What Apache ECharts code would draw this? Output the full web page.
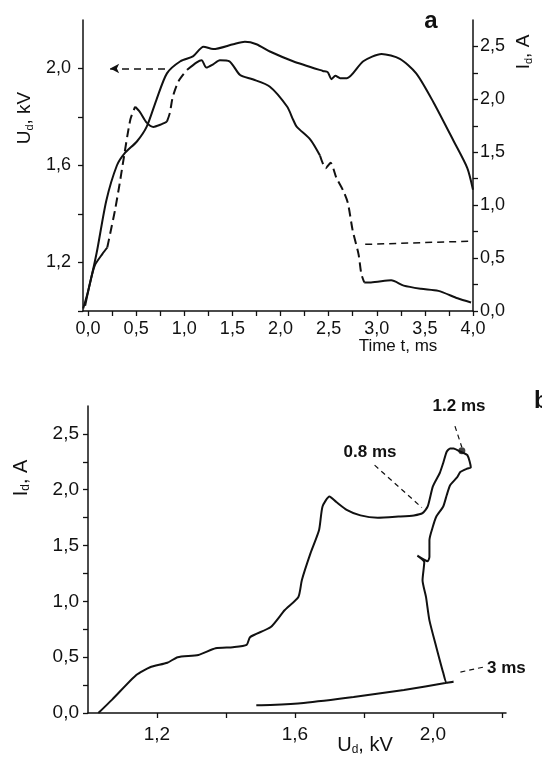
<!DOCTYPE html>
<html>
<head>
<meta charset="utf-8">
<script src="https://cdn.jsdelivr.net/npm/echarts@6/dist/echarts.min.js"></script>
<style>html,body{margin:0;padding:0;background:#fff}#c{width:542px;height:760px}</style>
</head>
<body>
<div id="c"></div>
<script>
// ---------- DATA ----------
// Panel a: discharge voltage U_d (kV) vs time (ms)
const timeU = [-0.05, 0.0, 0.09, 0.19, 0.30, 0.38, 0.51, 0.61, 0.71, 0.82, 0.96, 1.09, 1.20, 1.30, 1.51, 1.63, 1.75, 1.89, 2.13, 2.44, 2.49, 2.53, 2.57, 2.62, 2.69, 2.86, 3.05, 3.24, 3.41, 3.59, 3.80, 3.94, 4.0];
const voltU = [1.01, 1.08, 1.24, 1.455, 1.60, 1.65, 1.70, 1.76, 1.87, 1.98, 2.03, 2.05, 2.09, 2.08, 2.10, 2.11, 2.10, 2.07, 2.03, 1.99, 1.985, 1.956, 1.97, 1.96, 1.96, 2.03, 2.06, 2.04, 1.98, 1.86, 1.70, 1.59, 1.50];
// Panel a: discharge current I_d (A) vs time (ms)
const timeI = [-0.03, 0.02, 0.07, 0.15, 0.20, 0.23, 0.28, 0.33, 0.36, 0.44, 0.49, 0.54, 0.61, 0.68, 0.75, 0.82, 0.85, 0.88, 0.94, 1.03, 1.13, 1.18, 1.23, 1.30, 1.37, 1.47, 1.58, 1.71, 1.89, 2.07, 2.13, 2.17, 2.31, 2.41, 2.47, 2.52, 2.58, 2.65, 2.70, 2.75, 2.81, 2.84, 2.87, 2.94, 3.15, 3.28, 3.46, 3.64, 3.84, 3.98];
const currI = [0.05, 0.26, 0.43, 0.54, 0.60, 0.73, 0.95, 1.21, 1.38, 1.81, 1.93, 1.88, 1.78, 1.74, 1.76, 1.79, 1.87, 2.02, 2.17, 2.28, 2.35, 2.37, 2.30, 2.33, 2.37, 2.36, 2.23, 2.19, 2.12, 1.93, 1.81, 1.74, 1.62, 1.47, 1.35, 1.40, 1.26, 1.14, 1.02, 0.76, 0.54, 0.35, 0.27, 0.27, 0.29, 0.24, 0.21, 0.19, 0.12, 0.08];
// Panel b: I_d (A) vs U_d (kV), in time order
const loopU = [1.03, 1.07, 1.14, 1.18, 1.23, 1.26, 1.32, 1.37, 1.42, 1.46, 1.47, 1.53, 1.57, 1.61, 1.62, 1.645, 1.67, 1.68, 1.70, 1.72, 1.75, 1.79, 1.84, 1.90, 1.945, 1.97, 1.985, 2.00, 2.02, 2.03, 2.04, 2.05, 2.06, 2.08, 2.10, 2.11, 2.10, 2.08, 2.07, 2.05, 2.04, 2.03, 2.01, 2.00, 1.99, 1.99, 1.985, 1.955, 1.975, 1.97, 1.98, 1.99, 2.01, 2.03, 2.04, 2.06, 2.04, 1.916, 1.77, 1.625, 1.529, 1.488];
const loopI = [0.00, 0.12, 0.34, 0.41, 0.45, 0.50, 0.52, 0.58, 0.59, 0.61, 0.68, 0.77, 0.92, 1.04, 1.19, 1.43, 1.64, 1.85, 1.94, 1.89, 1.82, 1.77, 1.75, 1.76, 1.77, 1.79, 1.85, 2.03, 2.15, 2.24, 2.34, 2.37, 2.37, 2.34, 2.31, 2.20, 2.19, 2.16, 2.11, 2.04, 1.95, 1.85, 1.76, 1.67, 1.55, 1.40, 1.36, 1.41, 1.35, 1.19, 1.04, 0.83, 0.59, 0.36, 0.27, 0.28, 0.27, 0.206, 0.143, 0.09, 0.072, 0.07];
// Tick values and labels
const timeLabels = [0, 0.5, 1.0, 1.5, 2.0, 2.5, 3.0, 3.5, 4.0];
const timeTicks = [0, 0.25, 0.5, 0.75, 1.0, 1.25, 1.5, 1.75, 2.0, 2.25, 2.5, 2.75, 3.0, 3.25, 3.5, 3.75, 4.0];
const voltLabelsA = [1.2, 1.6, 2.0];
const voltTicksA = [1.0, 1.2, 1.4, 1.6, 1.8, 2.0];
const currLabels = [0, 0.5, 1.0, 1.5, 2.0, 2.5];
const currTicks = [0, 0.25, 0.5, 0.75, 1.0, 1.25, 1.5, 1.75, 2.0, 2.25, 2.5];
const voltLabelsB = [1.2, 1.6, 2.0];
const voltTicksB = [1.2, 1.4, 1.6, 1.8, 2.0, 2.2];
// Annotations (panel b): marked times on the loop
const marks = [
  {label: '1.2 ms', from: [2.064, 2.57], to: [2.084, 2.38]},
  {label: '0.8 ms', from: [1.831, 2.22], to: [1.968, 1.84]},
  {label: '3 ms',   from: [2.145, 0.41], to: [2.07, 0.36]}
];
const dot12 = [2.084, 2.35];
// Panel a arrows toward the axes
const arrowU = [[0.80, 2.0], [0.23, 2.0]];
const arrowI = [[2.88, 0.63], [4.0, 0.66]];
// Dashed portions of the I_d trace (index ranges)
const dashedRanges = [[4, 10], [15, 19], [33, 42]];

// ---------- CHART ----------
const FONT = 'Liberation Sans, Arial, sans-serif';
const INK = '#111';
const fmt = v => v.toFixed(1).replace('.', ',');
const zip = (a, b) => a.map((v, i) => [v, b[i]]);

function axisBase(ticks, labels, margin, size) {
  return {
    type: 'value',
    axisLine: {show: true, onZero: false, lineStyle: {color: INK, width: 1.5}},
    axisTick: {show: true, length: 5, customValues: ticks, lineStyle: {color: INK, width: 1.3}},
    axisLabel: {customValues: labels, formatter: fmt, fontSize: size || 18, margin: margin, color: INK, fontFamily: FONT},
    splitLine: {show: false}
  };
}

// split current trace into solid/dashed pieces
const iPts = zip(timeI, currI);
const pieces = [];
let cursor = 0;
dashedRanges.forEach(r => {
  if (r[0] > cursor) pieces.push({from: cursor, to: r[0], dashed: false});
  pieces.push({from: r[0], to: r[1], dashed: true});
  cursor = r[1];
});
if (cursor < iPts.length - 1) pieces.push({from: cursor, to: iPts.length - 1, dashed: false});

const series = [];
series.push({
  type: 'line', xAxisIndex: 0, yAxisIndex: 0, data: zip(timeU, voltU),
  showSymbol: false, smooth: 0.25, lineStyle: {color: INK, width: 2}, silent: true,
  markLine: {
    silent: true, symbol: ['none', 'arrow'], symbolSize: [7, 9], label: {show: false},
    lineStyle: {color: INK, width: 1.5, type: [7, 5]},
    data: [[{coord: arrowU[0]}, {coord: arrowU[1]}]]
  }
});
pieces.forEach((p, k) => {
  const s = {
    type: 'line', xAxisIndex: 0, yAxisIndex: 1, data: iPts.slice(p.from, p.to + 1),
    showSymbol: false, smooth: 0.25, silent: true,
    lineStyle: {color: INK, width: 2, type: p.dashed ? [9, 5] : 'solid'}
  };
  if (k === 0) {
    s.markLine = {
      silent: true, symbol: ['none', 'none'], label: {show: false},
      lineStyle: {color: INK, width: 1.5, type: [7, 5]},
      data: [[{coord: arrowI[0]}, {coord: arrowI[1]}]]
    };
  }
  series.push(s);
});
series.push({
  type: 'line', xAxisIndex: 1, yAxisIndex: 2, data: zip(loopU, loopI),
  showSymbol: false, smooth: 0.2, silent: true, lineStyle: {color: INK, width: 2},
  markLine: {
    silent: true, symbol: ['none', 'none'], label: {show: false},
    lineStyle: {color: INK, width: 1.2, type: [5, 4]},
    data: marks.map(m => [{coord: m.from}, {coord: m.to}])
  }
});
series.push({
  type: 'scatter', xAxisIndex: 1, yAxisIndex: 2, data: [dot12],
  symbolSize: 7, itemStyle: {color: INK}, silent: true
});

const chart = echarts.init(document.getElementById('c'), null, {renderer: 'canvas'});

const richTitle = (size, sub) => ({
  n: {fontSize: size, fontFamily: FONT, fill: INK, color: INK},
  s: {fontSize: sub, fontFamily: FONT, fill: INK, color: INK, padding: [9, 0, 0, 0]}
});

chart.setOption({
  animation: false,
  backgroundColor: '#fff',
  grid: [
    {left: 83, top: 20, width: 390, height: 291},
    {left: 88, top: 406, width: 418, height: 307}
  ],
  xAxis: [
    Object.assign(axisBase(timeTicks, timeLabels, 9, 18), {gridIndex: 0, min: -0.052, max: 4.0}),
    Object.assign(axisBase(voltTicksB, voltLabelsB, 12, 19), {gridIndex: 1, min: 1.0, max: 2.212})
  ],
  yAxis: [
    Object.assign(axisBase(voltTicksA, voltLabelsA, 12, 18), {gridIndex: 0, min: 1.0, max: 2.2, position: 'left'}),
    Object.assign(axisBase(currTicks, currLabels, 7, 18), {gridIndex: 0, min: 0, max: 2.75, position: 'right'}),
    Object.assign(axisBase(currTicks, currLabels, 9, 19), {gridIndex: 1, min: 0, max: 2.75, position: 'left'})
  ],
  series: series,
  graphic: [
    {type: 'text', x: 25, y: 118, rotation: Math.PI / 2,
     style: {text: '{n|U}{s|d}{n|, kV}', rich: richTitle(19, 11), align: 'center', verticalAlign: 'middle'}},
    {type: 'text', x: 524, y: 52, rotation: Math.PI / 2,
     style: {text: '{n|I}{s|d}{n|, A}', rich: richTitle(19, 11), align: 'center', verticalAlign: 'middle'}},
    {type: 'text', x: 21, y: 478, rotation: Math.PI / 2,
     style: {text: '{n|I}{s|d}{n|, A}', rich: richTitle(20, 12), align: 'center', verticalAlign: 'middle'}},
    {type: 'text', x: 365, y: 745,
     style: {text: '{n|U}{s|d}{n|, kV}', rich: richTitle(20, 12), align: 'center', verticalAlign: 'middle'}},
    {type: 'text', x: 398, y: 346,
     style: {text: 'Time t, ms', font: '17px ' + FONT, fill: INK, align: 'center', verticalAlign: 'middle'}},
    {type: 'text', x: 431, y: 21,
     style: {text: 'a', font: 'bold 24px ' + FONT, fill: INK, align: 'center', verticalAlign: 'middle'}},
    {type: 'text', x: 534, y: 401,
     style: {text: 'b', font: 'bold 24px ' + FONT, fill: INK, align: 'left', verticalAlign: 'middle'}},
    {type: 'text', x: 459, y: 406,
     style: {text: marks[0].label, font: 'bold 17px ' + FONT, fill: INK, align: 'center', verticalAlign: 'middle'}},
    {type: 'text', x: 370, y: 452,
     style: {text: marks[1].label, font: 'bold 17px ' + FONT, fill: INK, align: 'center', verticalAlign: 'middle'}},
    {type: 'text', x: 487, y: 668,
     style: {text: marks[2].label, font: 'bold 17px ' + FONT, fill: INK, align: 'left', verticalAlign: 'middle'}}
  ]
});
</script>
</body>
</html>
